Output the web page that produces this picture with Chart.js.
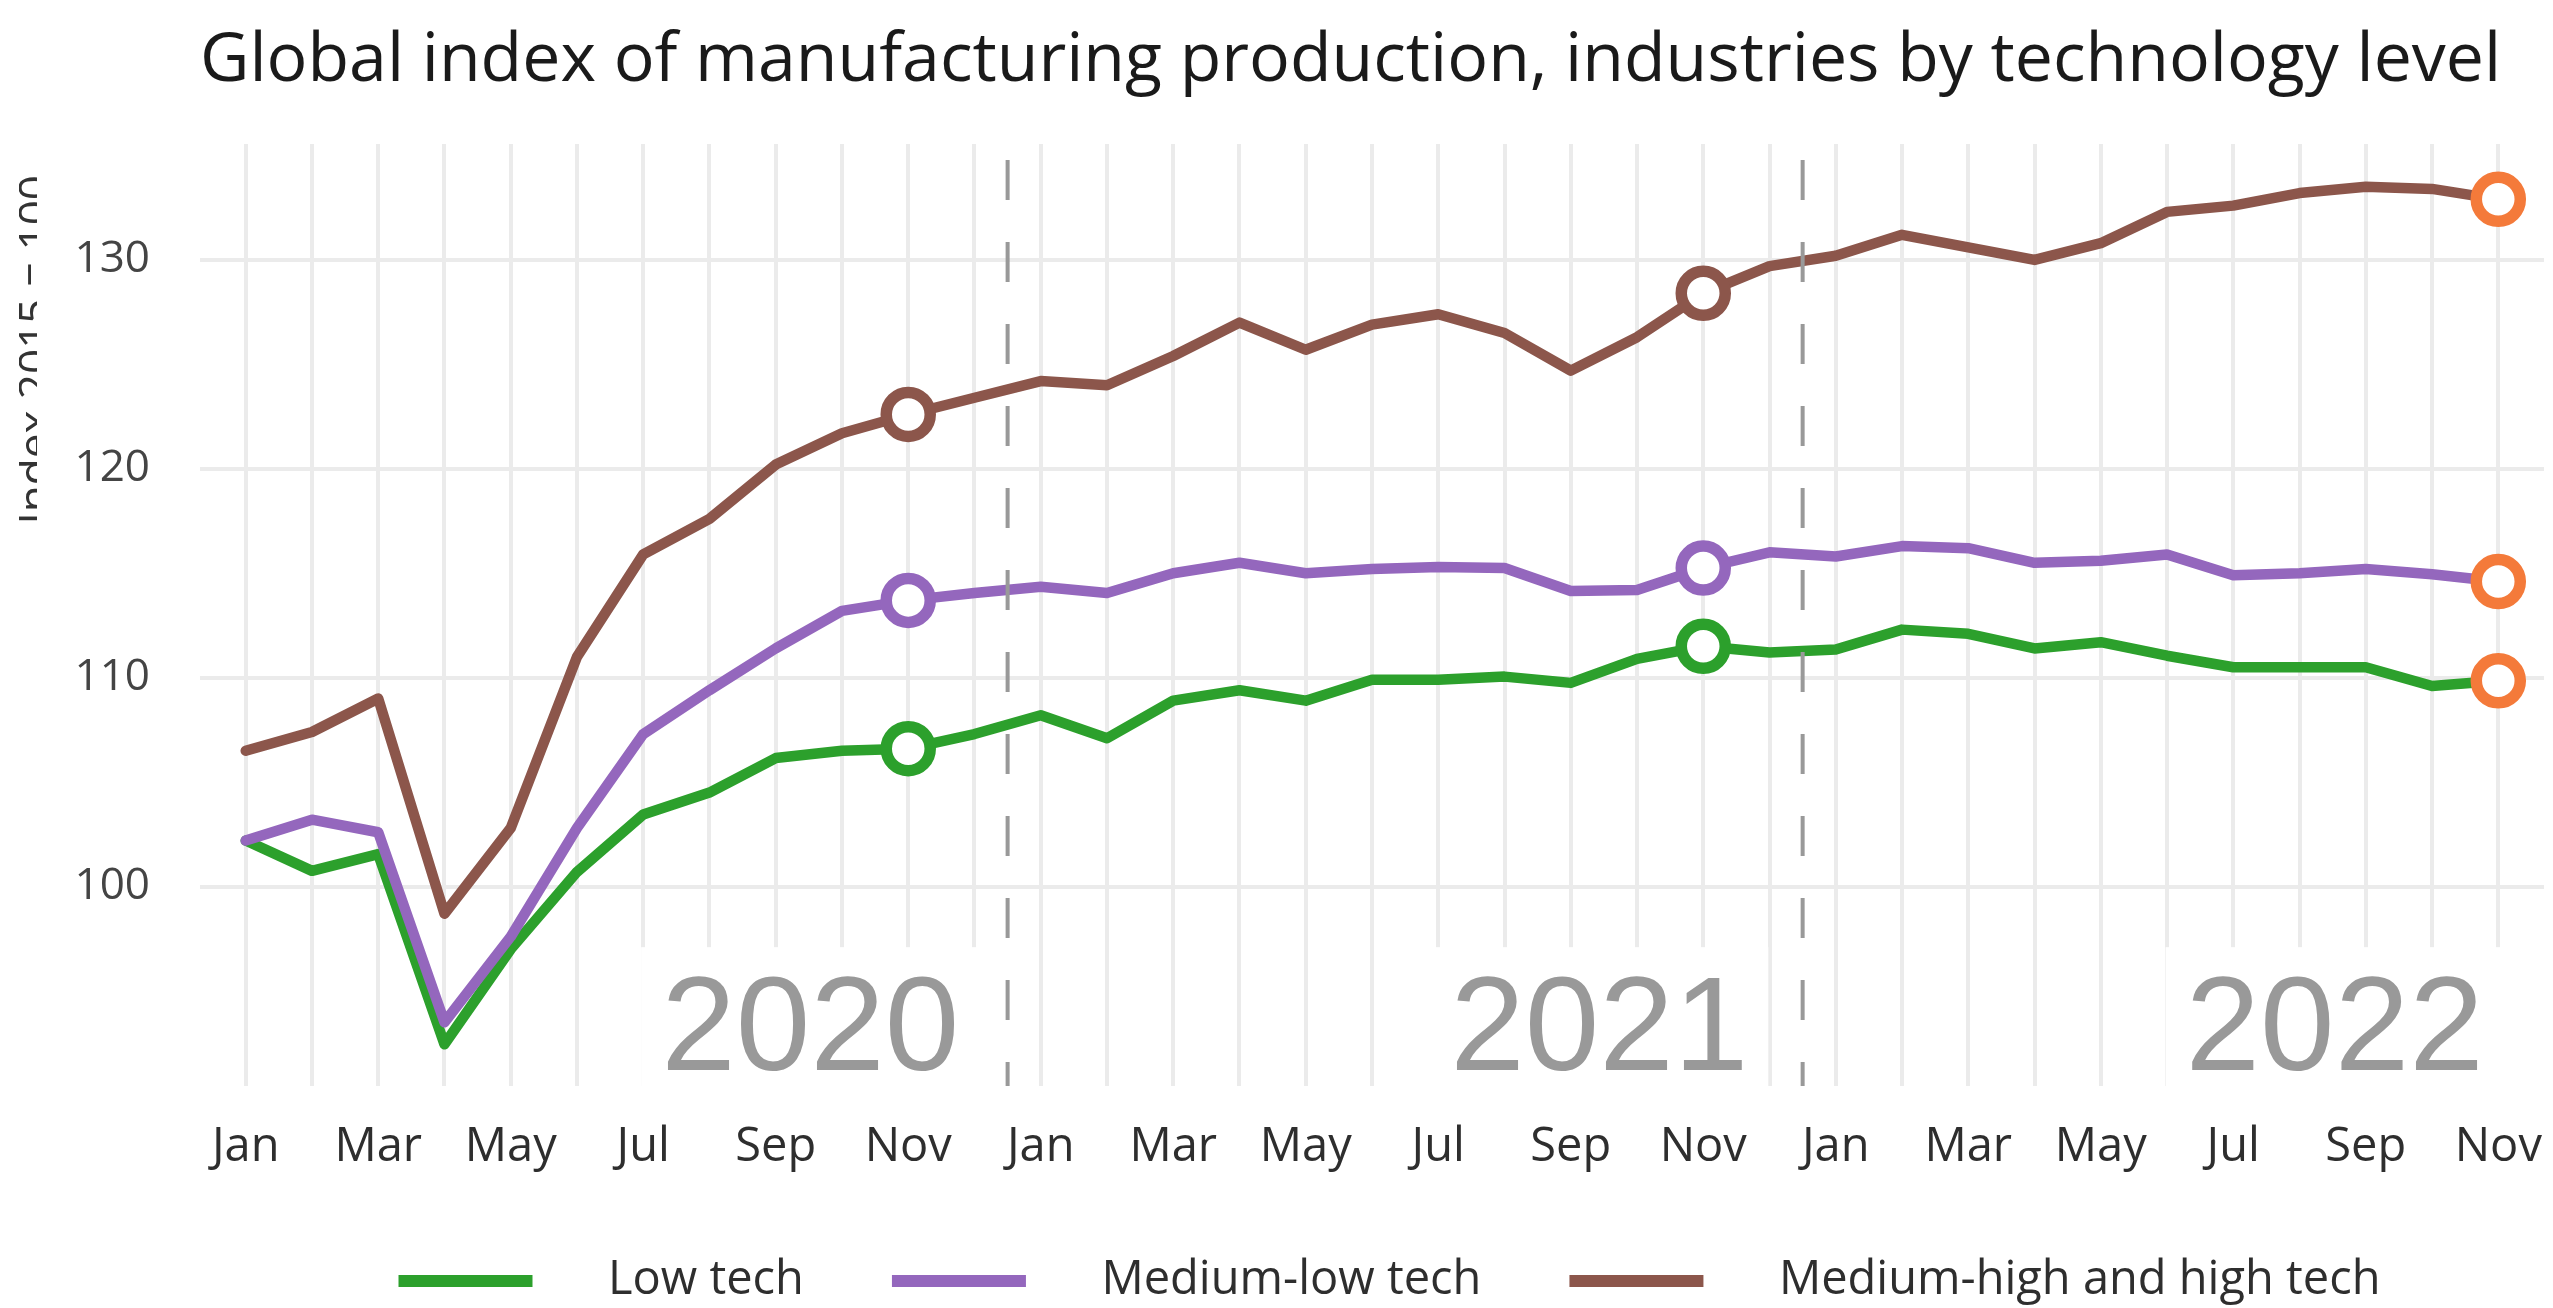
<!DOCTYPE html>
<html>
<head>
<meta charset="utf-8">
<script src="https://cdn.jsdelivr.net/npm/chart.js@4.4.1/dist/chart.umd.min.js"></script>
<style>
  html, body { margin: 0; padding: 0; background: #ffffff; overflow: hidden; }
  #wrap { width: 2553px; height: 1308px; position: relative; }
  canvas { display: block; }
</style>
</head>
<body>
<div id="wrap"><canvas id="chart" width="2553" height="1308"></canvas></div>
<script>
// ---------------- data ----------------
const titleText = 'Global index of manufacturing production, industries by technology level';
const yAxisTitle = 'Index 2015 = 100';

const monthLabels = [
  'Jan','Feb','Mar','Apr','May','Jun','Jul','Aug','Sep','Oct','Nov','Dec',
  'Jan','Feb','Mar','Apr','May','Jun','Jul','Aug','Sep','Oct','Nov','Dec',
  'Jan','Feb','Mar','Apr','May','Jun','Jul','Aug','Sep','Oct','Nov'
];

const yearLabels = ['2020', '2021', '2022'];

const seriesNames = ['Low tech', 'Medium-low tech', 'Medium-high and high tech'];

const lowTech = [102.2, 100.75, 101.55, 92.45, 97.0, 100.7, 103.45, 104.5, 106.15, 106.5, 106.6, 107.3,
  108.2, 107.1, 108.9, 109.4, 108.9, 109.9, 109.9, 110.05, 109.75, 110.9, 111.5, 111.2,
  111.35, 112.3, 112.1, 111.4, 111.7, 111.05, 110.5, 110.5, 110.5, 109.6, 109.85];

const mediumLowTech = [102.2, 103.2, 102.6, 93.5, 97.6, 102.8, 107.3, 109.4, 111.4, 113.2, 113.7, 114.05,
  114.35, 114.05, 115.0, 115.5, 115.0, 115.2, 115.3, 115.25, 114.15, 114.2, 115.25, 116.0,
  115.8, 116.3, 116.2, 115.5, 115.6, 115.9, 114.9, 115.0, 115.2, 114.95, 114.6];

const mediumHighTech = [106.5, 107.4, 109.0, 98.7, 102.8, 111.0, 115.9, 117.6, 120.2, 121.7, 122.6, 123.4,
  124.2, 124.0, 125.4, 127.0, 125.7, 126.9, 127.4, 126.5, 124.7, 126.3, 128.4, 129.7,
  130.2, 131.2, 130.6, 130.0, 130.8, 132.3, 132.6, 133.2, 133.5, 133.4, 132.9];

// ---------------- styles / positions ----------------
const COLORS = ['#2ca02c', '#9467bd', '#8c564b'];
const ORANGE = '#f47a3a';
const markerIndices = [10, 22];      // Nov of each earlier year (open circles)
const lastIndex = monthLabels.length - 1;
const yearLabelX = [8.52, 20.43, 31.53];
const yearLabelBaseline = 91.21;
const yearBreaks = [11.5, 23.5];

function makeSwatch(color) {
  const c = document.createElement('canvas');
  c.width = 221; c.height = 14;
  const g = c.getContext('2d');
  g.fillStyle = color;
  g.fillRect(35, 1, 134, 12);
  return c;
}
const swatches = COLORS.map(makeSwatch);

function makeDataset(label, values, color, order) {
  return {
    label: label,
    data: values.map((v, i) => ({ x: i, y: v })),
    borderColor: color,
    backgroundColor: color,
    borderWidth: 10.5,
    borderJoinStyle: 'round',
    borderCapStyle: 'round',
    tension: 0,
    fill: false,
    order: order,
    pointRadius: (ctx) => (markerIndices.includes(ctx.dataIndex) || ctx.dataIndex === lastIndex) ? 22 : 0,
    pointHoverRadius: (ctx) => (markerIndices.includes(ctx.dataIndex) || ctx.dataIndex === lastIndex) ? 22 : 0,
    pointBorderWidth: 11.5,
    pointHoverBorderWidth: 11.5,
    pointBorderColor: (ctx) => ctx.dataIndex === lastIndex ? ORANGE : color,
    pointBackgroundColor: '#ffffff'
  };
}

const annotationPlugin = {
  id: 'yearAnnotations',
  beforeDatasetsDraw(chart) {
    const { ctx, chartArea, scales } = chart;
    const xs = scales.x, ys = scales.y;
    ctx.save();
    ctx.beginPath();
    ctx.rect(chartArea.left, chartArea.top, chartArea.right - chartArea.left, chartArea.bottom - chartArea.top);
    ctx.clip();
    ctx.font = '134px "Liberation Sans", Arial, sans-serif';
    ctx.textAlign = 'center';
    ctx.textBaseline = 'alphabetic';
    const baseY = ys.getPixelForValue(yearLabelBaseline);
    yearLabels.forEach((t, i) => {
      const cx = xs.getPixelForValue(yearLabelX[i]);
      const w = ctx.measureText(t).width;
      const capH = 134 * 0.716;
      ctx.fillStyle = '#ffffff';
      ctx.fillRect(cx - w / 2 - 20, baseY - capH - 27, w + 40, chartArea.bottom - (baseY - capH - 27) + 10);
      ctx.fillStyle = '#999999';
      ctx.fillText(t, cx, baseY);
    });
    ctx.restore();
  },
  afterDatasetsDraw(chart) {
    const { ctx, chartArea, scales } = chart;
    ctx.save();
    ctx.strokeStyle = '#999999';
    ctx.lineWidth = 4;
    ctx.setLineDash([40, 42]);
    ctx.lineDashOffset = 66;
    yearBreaks.forEach((b) => {
      const x = scales.x.getPixelForValue(b);
      ctx.beginPath();
      ctx.moveTo(x, chartArea.top);
      ctx.lineTo(x, chartArea.bottom);
      ctx.stroke();
    });
    ctx.restore();
  },
  afterDraw(chart) {
    const ctx = chart.ctx;
    ctx.save();
    ctx.beginPath();
    ctx.rect(19, 0, 18, chart.height);
    ctx.clip();
    ctx.translate(50, 175);
    ctx.rotate(-Math.PI / 2);
    ctx.font = '44px "Open Sans", sans-serif';
    ctx.fillStyle = '#333333';
    ctx.textAlign = 'right';
    ctx.textBaseline = 'alphabetic';
    ctx.fillText(yAxisTitle, 0, 0);
    ctx.restore();
  }
};

const chart = new Chart(document.getElementById('chart'), {
  type: 'line',
  data: {
    datasets: [
      makeDataset(seriesNames[0], lowTech, COLORS[0], 3),
      makeDataset(seriesNames[1], mediumLowTech, COLORS[1], 2),
      makeDataset(seriesNames[2], mediumHighTech, COLORS[2], 1)
    ]
  },
  options: {
    responsive: false,
    devicePixelRatio: 1,
    animation: false,
    events: [],
    layout: { autoPadding: false, padding: { left: 0, right: 9, top: 0, bottom: 0 } },
    scales: {
      x: {
        type: 'linear',
        min: -0.69,
        max: 34.69,
        afterFit: (s) => { s.height = 118.5; },
        ticks: {
          stepSize: 1,
          includeBounds: false,
          autoSkip: false,
          maxRotation: 0,
          minRotation: 0,
          padding: 0,
          color: '#2e2e2e',
          font: { family: '"Open Sans", sans-serif', size: 47 },
          callback: (v) => (Number.isInteger(v) && v % 2 === 0 && v >= 0 && v < monthLabels.length) ? monthLabels[v] : ''
        },
        grid: { color: '#ebebeb', lineWidth: 4, drawTicks: true, tickLength: 33.8, tickColor: 'rgba(0,0,0,0)' },
        border: { display: false }
      },
      y: {
        min: 90.45,
        max: 135.55,
        afterFit: (s) => { s.width = 200; },
        ticks: {
          stepSize: 10,
          includeBounds: false,
          padding: 0,
          color: '#444444',
          font: { family: '"Open Sans", sans-serif', size: 44 }
        },
        grid: { color: '#ebebeb', lineWidth: 4, drawTicks: true, tickLength: 50, tickColor: 'rgba(0,0,0,0)' },
        border: { display: false }
      }
    },
    plugins: {
      tooltip: { enabled: false },
      title: {
        display: true,
        text: titleText,
        align: 'start',
        fullSize: false,
        color: '#1a1a1a',
        font: { family: '"Open Sans", sans-serif', size: 68, weight: 'normal' },
        padding: { top: 21.2, bottom: 41.2 }
      },
      legend: {
        display: true,
        position: 'bottom',
        align: 'center',
        fullSize: false,
        maxHeight: 103.5,
        labels: {
          usePointStyle: true,
          pointStyleWidth: 221,
          padding: 53,
          color: '#2e2e2e',
          font: { family: '"Open Sans", sans-serif', size: 47 },
          generateLabels: () => seriesNames.map((name, i) => ({
            text: name,
            fillStyle: COLORS[i],
            strokeStyle: COLORS[i],
            lineWidth: 0,
            pointStyle: swatches[i],
            hidden: false,
            datasetIndex: i,
            fontColor: '#2e2e2e'
          }))
        }
      }
    }
  },
  plugins: [annotationPlugin]
});
</script>
</body>
</html>
